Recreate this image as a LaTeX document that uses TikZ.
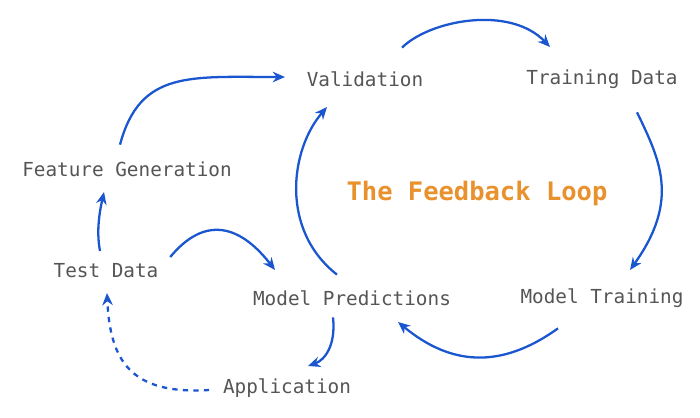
\documentclass[tikz,border=0pt]{standalone}
\usepackage{fontspec}
\setmonofont{DejaVu Sans Mono}
\usetikzlibrary{arrows.meta,positioning}
\definecolor{loopblue}{HTML}{1A56D0}
\definecolor{loopgray}{HTML}{555555}
\definecolor{looporange}{HTML}{E8912D}
\tikzset{
  stage/.style={font=\ttfamily\fontsize{11}{13}\selectfont, text=loopgray, inner sep=2pt},
  flow/.style={-{Stealth[length=7pt,width=6pt]}, loopblue, line width=1.3pt},
}
\begin{document}
\begin{tikzpicture}[x=0.02cm, y=-0.02cm]
	\useasboundingbox (0,0) rectangle (700,417);
	\node[stage] (val) at (365,79) {Validation};
	\node[stage] (train) at (602,79) {Training Data};
	\node[font=\ttfamily\bfseries\fontsize{14.5}{17}\selectfont, text=looporange] (title) at (477,193) {The Feedback Loop};
	\node[stage] (feat) at (127,169) {Feature Generation};
	\node[stage] (test) at (106,271) {Test Data};
	\node[stage] (pred) at (352,298) {Model Predictions};
	\node[stage] (mtrain) at (602,298) {Model Training};
	\node[stage] (app) at (287,388) {Application};
	% cycle
	\draw[flow] (val.north east) ++(-25,-20) coordinate (a1) .. controls (430,20) and (510,5) .. (550,47);
	\draw[flow] (train.south) ++(35,20) coordinate (a2) .. controls (660,160) and (680,200) .. (630,270);
	\draw[flow] (mtrain.south) ++(-44,17) coordinate (a3) .. controls (500,370) and (450,365) .. (398,322);
	\draw[flow] (pred.north) ++(-15,-12) coordinate (a4) .. controls (280,230) and (290,150) .. (327,107);
	\draw[flow] (pred.south) ++(-19,8) coordinate (a5) .. controls (336,345) and (325,360) .. (308,366);
	% side path
	\draw[flow, dashed] (app.west) ++(-10,2) coordinate (a6) .. controls (130,395) and (110,360) .. (107,293);
	\draw[flow] (test.north) ++(-6,-9) coordinate (a7) .. controls (96,230) and (100,210) .. (104,192);
	\draw[flow] (feat.north) ++(-7,-13) coordinate (a8) .. controls (140,70) and (190,77) .. (285,77);
	\draw[flow] (test.east) ++(8,-14) coordinate (a9) .. controls (205,215) and (240,225) .. (275,270);
\end{tikzpicture}
\end{document}
